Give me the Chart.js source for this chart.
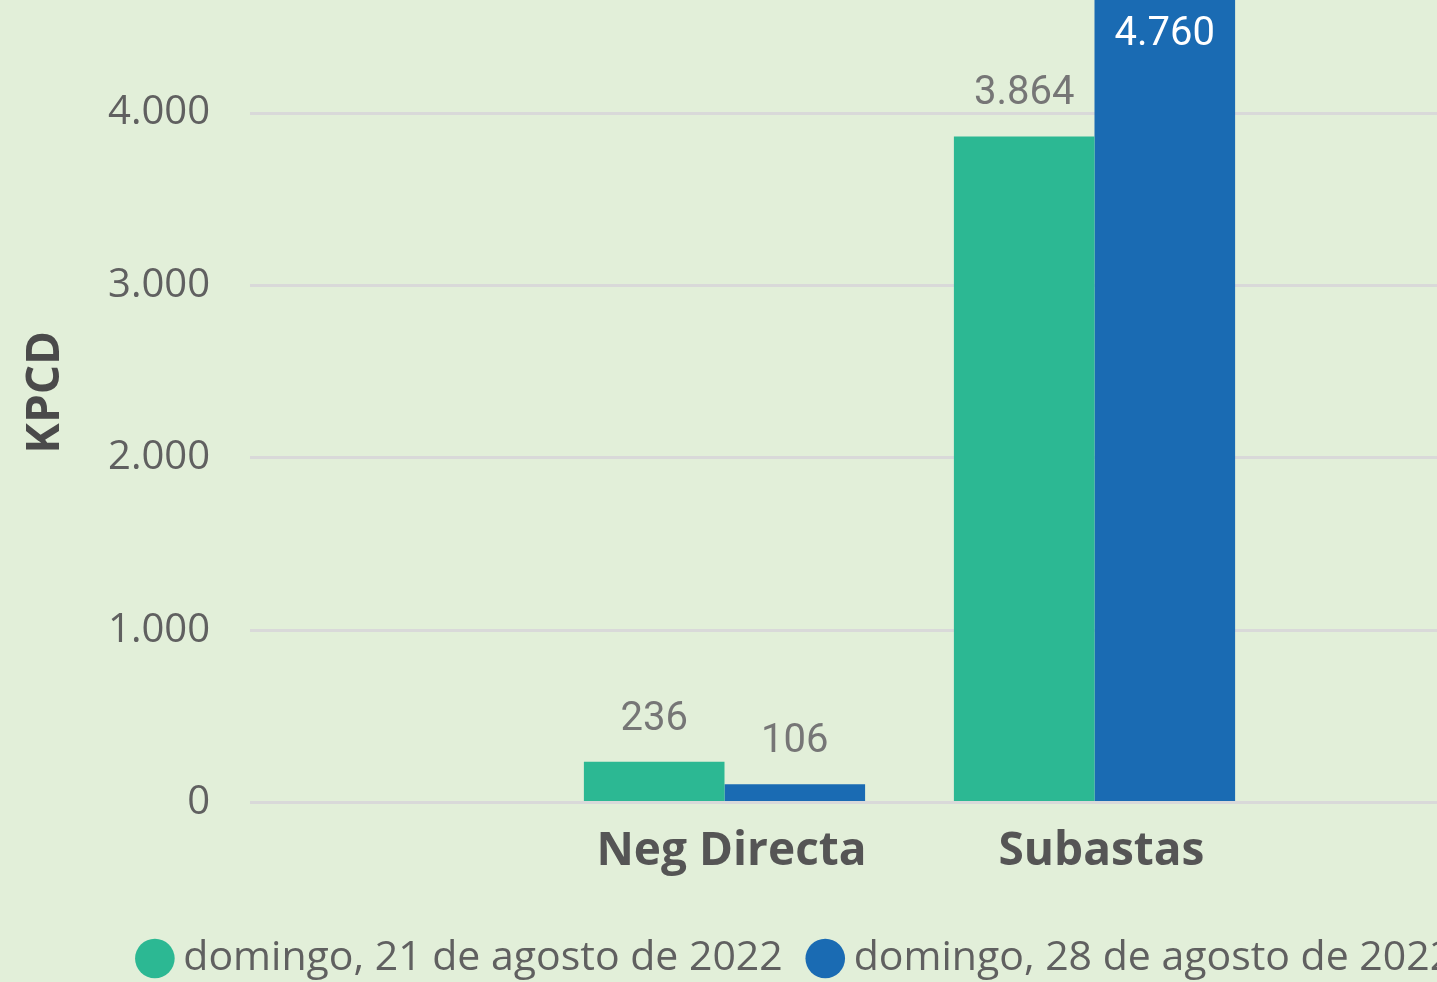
<!DOCTYPE html>
<html><head><meta charset="utf-8">
<script src="https://cdn.jsdelivr.net/npm/chart.js@4.4.1/dist/chart.umd.min.js"></script>
<style>
html,body{margin:0;padding:0;width:1437px;height:982px;overflow:hidden;background:#e2efd9;}
#wrap{position:absolute;left:0;top:-82px;width:1600px;height:1071px;}
</style></head><body>
<div id="wrap"><canvas id="c"></canvas></div>
<script>
const categories = ['Neg Directa', 'Subastas'];
const seriesNames = ['domingo, 21 de agosto de 2022', 'domingo, 28 de agosto de 2022'];
const series21Ago = [236, 3864];
const series28Ago = [106, 4760];
const yTicks = [0, 1000, 2000, 3000, 4000];
const xMin = -0.2824, xMax = 3.3662;

function fmt(v){ return String(Math.round(v)).replace(/\B(?=(\d{3})+(?!\d))/g, '.'); }

const valueLabels = {
  id: 'valueLabels',
  afterDatasetsDraw(chart) {
    const ctx = chart.ctx; const top = chart.chartArea.top;
    ctx.save();
    ctx.font = '400 40px Roboto';
    ctx.textAlign = 'center'; ctx.textBaseline = 'alphabetic';
    chart.data.datasets.forEach((ds, di) => {
      const meta = chart.getDatasetMeta(di);
      meta.data.forEach((bar, i) => {
        const txt = fmt(ds.data[i].y);
        if (bar.y - 62 < top) { ctx.fillStyle = '#ffffff'; ctx.fillText(txt, bar.x, bar.y + 63); }
        else { ctx.fillStyle = '#767676'; ctx.fillText(txt, bar.x, bar.y - 32); }
      });
    });
    ctx.restore();
  }
};

const yMax = Math.max(...series21Ago, ...series28Ago);

new Chart(document.getElementById('c'), {
  type: 'bar',
  data: {
    datasets: [
      { label: seriesNames[0], data: categories.map((c,i)=>({x:i+1, y:series21Ago[i]})), backgroundColor:'#2cb893', borderWidth:0 },
      { label: seriesNames[1], data: categories.map((c,i)=>({x:i+1, y:series28Ago[i]})), backgroundColor:'#1a6bb3', borderWidth:0 }
    ]
  },
  options: {
    responsive: true, maintainAspectRatio: false, animation: false, devicePixelRatio: 1,
    barPercentage: 1, categoryPercentage: 0.76,
    layout: { autoPadding: false, padding: 0 },
    scales: {
      x: {
        type: 'linear', min: xMin, max: xMax, offset: false,
        afterBuildTicks(s){ s.ticks = categories.map((c,i)=>({value:i+1})); },
        afterFit(s){ s.height = 101; },
        ticks: { callback: v => categories[v-1] ?? '', color:'#555555', font:{family:'Open Sans', size:46, weight:'bold'}, padding: 22, labelOffset: 7, maxRotation:0, autoSkip:false },
        grid: { display:false, drawTicks:false }, border: { display:false }
      },
      y: {
        min: 0, max: yMax,
        afterFit(s){ s.width = 250; },
        afterBuildTicks(s){ s.ticks = yTicks.map(v=>({value:v})); },
        ticks: { callback: v => fmt(v), color:'#606060', font:{family:'Open Sans', size:40}, padding: 40 },
        grid: { color:'#d9d9d9', lineWidth:3, drawTicks:false },
        border: { display:false },
        title: { display:true, text:'KPCD', color:'#4a4a4a', font:{family:'Open Sans', size:46, weight:'bold'}, padding:{top:18,bottom:0} }
      }
    },
    plugins: {
      tooltip: { enabled:false },
      legend: { position:'bottom', align:'center', labels:{ usePointStyle:true, pointStyle:'circle', boxWidth:16, boxHeight:28, padding:34.5, color:'#606060', font:{family:'Open Sans', size:41} } }
    }
  },
  plugins: [valueLabels]
});
</script>
</body></html>
